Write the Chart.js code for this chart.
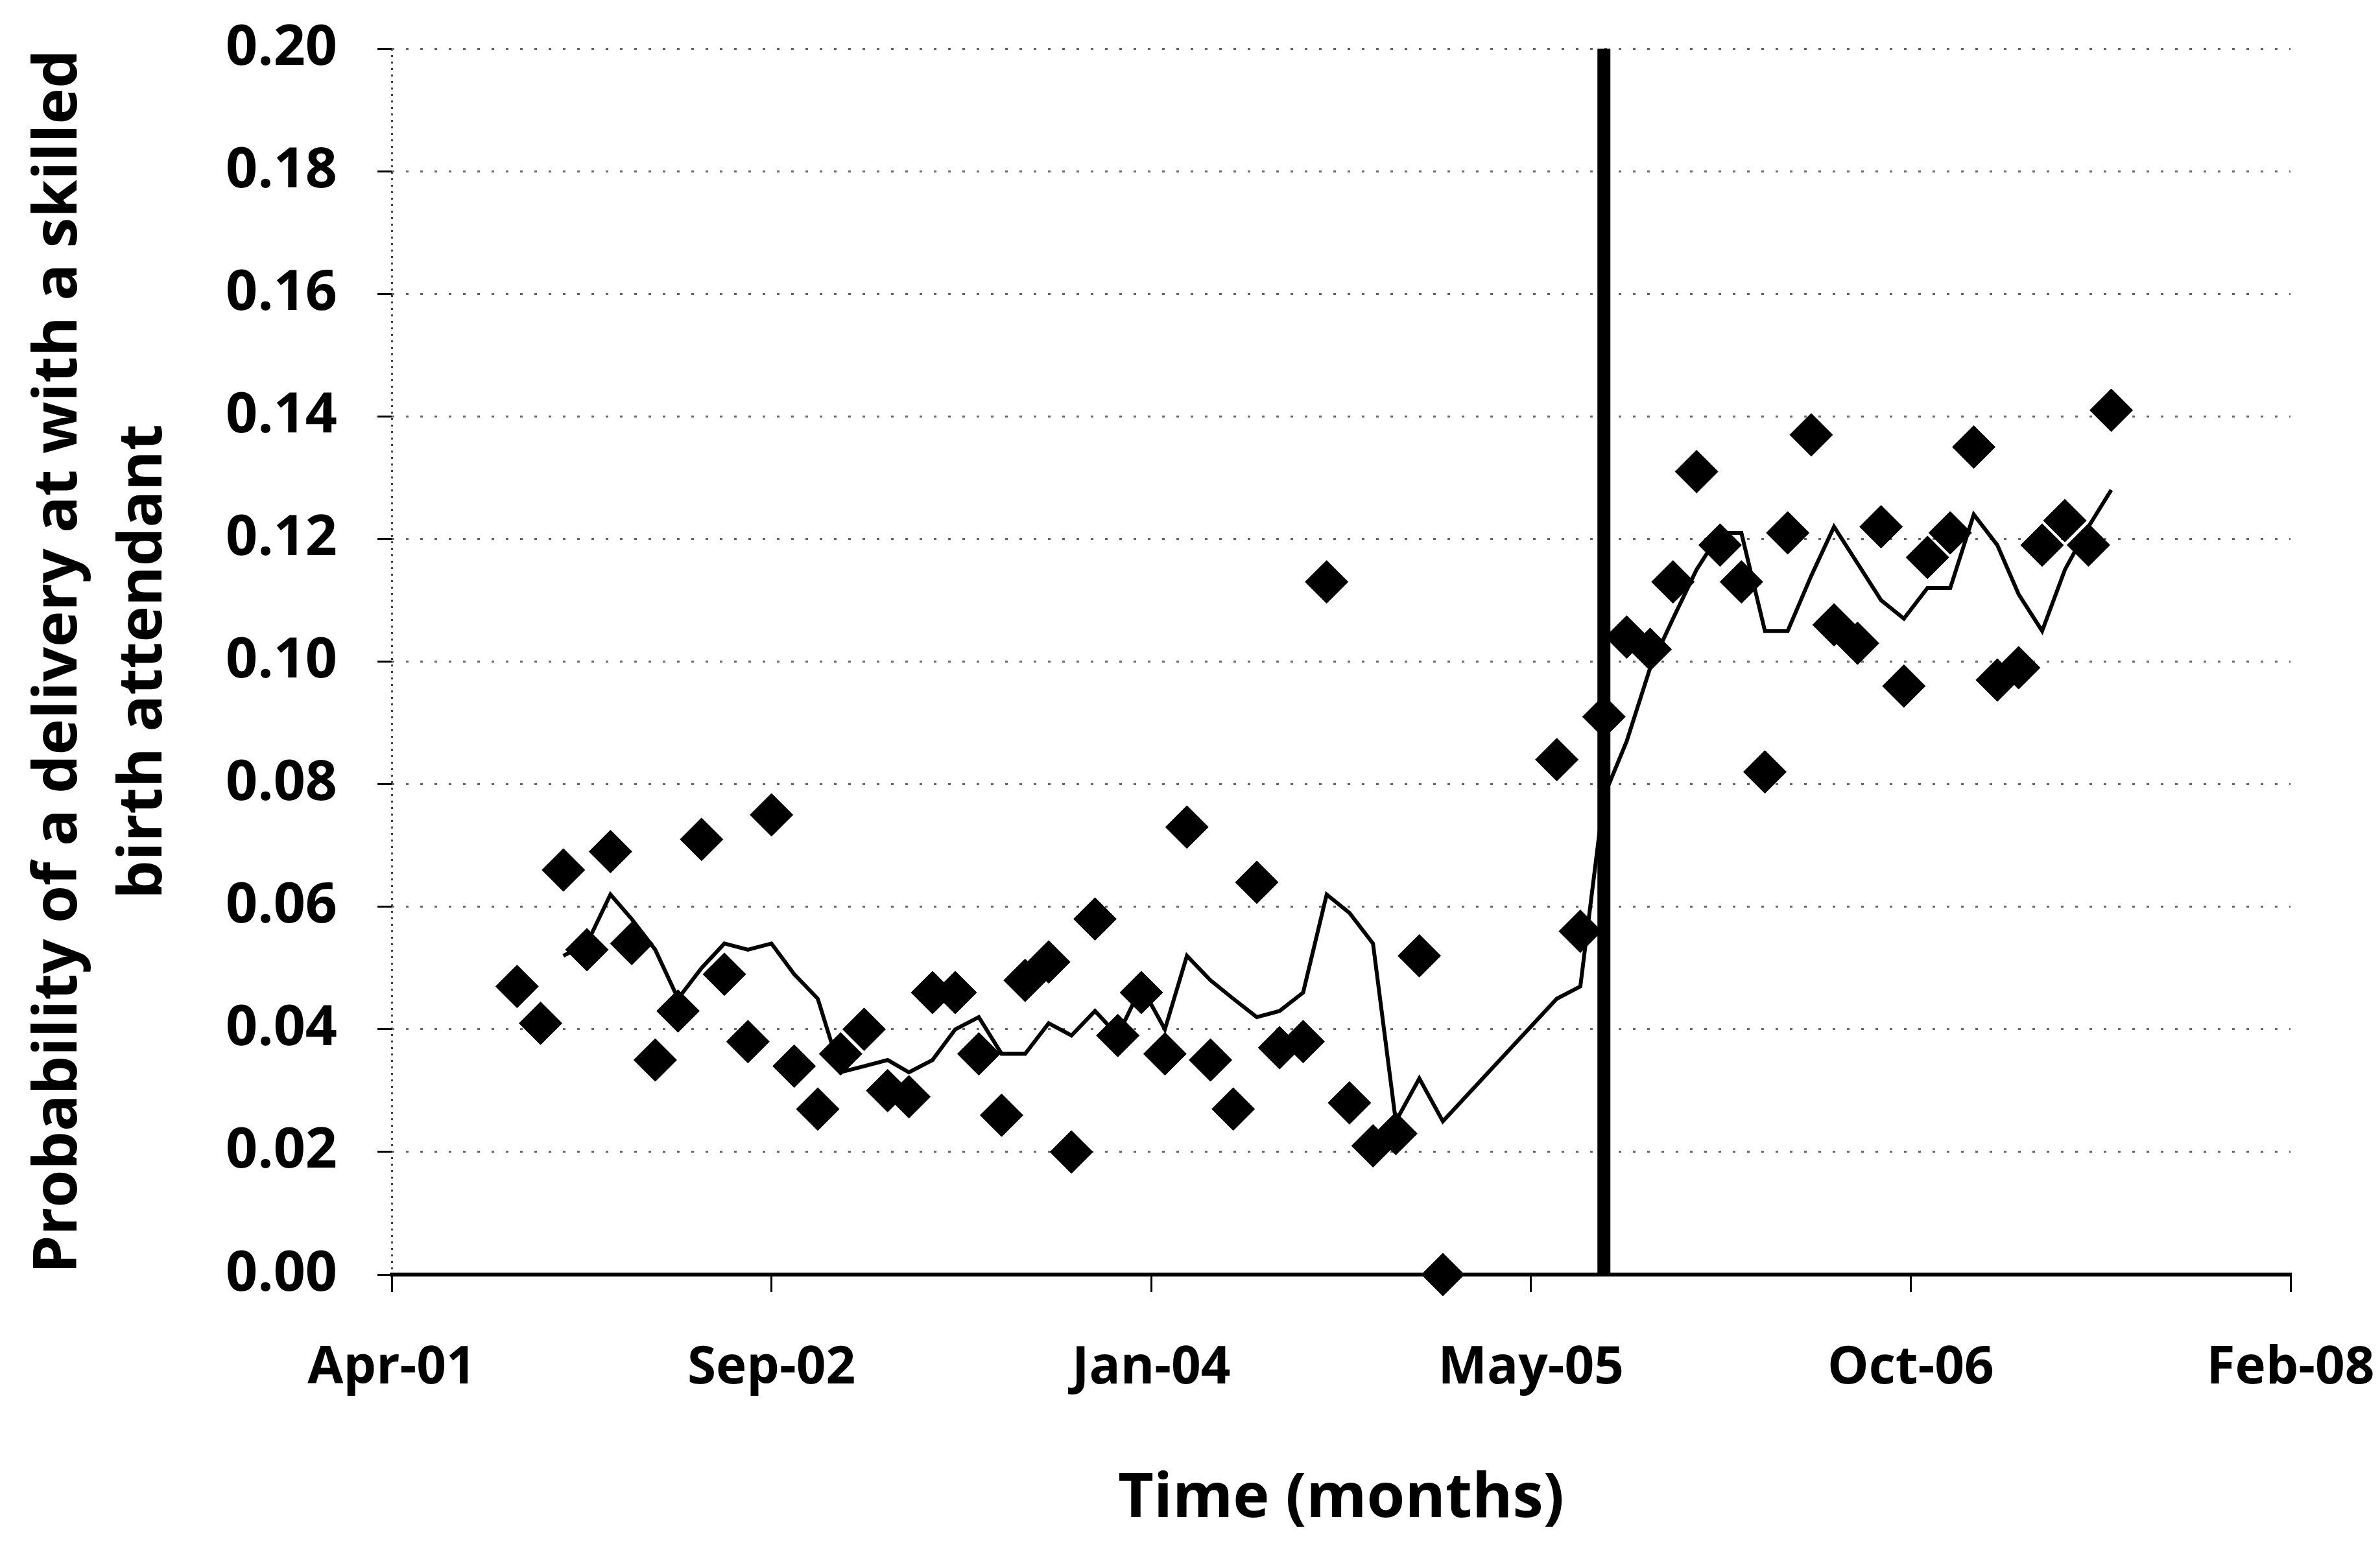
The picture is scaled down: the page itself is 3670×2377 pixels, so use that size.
<!DOCTYPE html>
<html>
<head>
<meta charset="utf-8">
<script src="https://cdn.jsdelivr.net/npm/chart.js@4.4.1/dist/chart.umd.min.js"></script>
<style>
  html, body { margin: 0; padding: 0; background: #fff; }
  #chart_wrapper { width: 3670px; height: 2377px; }
</style>
</head>
<body>
<div id="chart_wrapper"><canvas id="chart" width="3670" height="2377"></canvas></div>
<script>
/*global Chart*/

// monthly observations, Oct 2001 - Jul 2007 (Mar-Jun 2005 not recorded)
var months = [
    "2001-10", "2001-11", "2001-12",
    "2002-01", "2002-02", "2002-03", "2002-04", "2002-05", "2002-06",
    "2002-07", "2002-08", "2002-09", "2002-10", "2002-11", "2002-12",
    "2003-01", "2003-02", "2003-03", "2003-04", "2003-05", "2003-06",
    "2003-07", "2003-08", "2003-09", "2003-10", "2003-11", "2003-12",
    "2004-01", "2004-02", "2004-03", "2004-04", "2004-05", "2004-06",
    "2004-07", "2004-08", "2004-09", "2004-10", "2004-11", "2004-12",
    "2005-01", "2005-02", "2005-03", "2005-04", "2005-05", "2005-06",
    "2005-07", "2005-08", "2005-09", "2005-10", "2005-11", "2005-12",
    "2006-01", "2006-02", "2006-03", "2006-04", "2006-05", "2006-06",
    "2006-07", "2006-08", "2006-09", "2006-10", "2006-11", "2006-12",
    "2007-01", "2007-02", "2007-03", "2007-04", "2007-05", "2007-06",
    "2007-07"
];

var deliveryRate = [
    0.047, 0.041, 0.066,
    0.053, 0.069, 0.054, 0.035, 0.043, 0.071,
    0.049, 0.038, 0.075, 0.034, 0.027, 0.036,
    0.040, 0.030, 0.029, 0.046, 0.046, 0.036,
    0.026, 0.048, 0.051, 0.020, 0.058, 0.039,
    0.046, 0.036, 0.073, 0.035, 0.027, 0.064,
    0.037, 0.038, 0.113, 0.028, 0.021, 0.023,
    0.052, 0.000, null, null, null, null,
    0.084, 0.056, 0.091, 0.104, 0.102, 0.113,
    0.131, 0.119, 0.113, 0.082, 0.121, 0.137,
    0.106, 0.103, 0.122, 0.096, 0.117, 0.121,
    0.135, 0.097, 0.099, 0.119, 0.123, 0.119,
    0.141
];

// 3-month moving average line
var movingAverage = [
    null, null, 0.052,
    0.054, 0.062, 0.058, 0.053, 0.045, 0.050,
    0.054, 0.053, 0.054, 0.049, 0.045, 0.033,
    0.034, 0.035, 0.033, 0.035, 0.040, 0.042,
    0.036, 0.036, 0.041, 0.039, 0.043, 0.039,
    0.047, 0.040, 0.052, 0.048, 0.045, 0.042,
    0.043, 0.046, 0.062, 0.059, 0.054, 0.025,
    0.032, 0.025, null, null, null, null,
    0.045, 0.047, 0.078, 0.087, 0.099, 0.107,
    0.115, 0.121, 0.121, 0.105, 0.105, 0.114,
    0.122, 0.116, 0.110, 0.107, 0.112, 0.112,
    0.124, 0.119, 0.111, 0.105, 0.115, 0.122,
    0.128
];

var interventionMonth = "2005-09";

var xTickLabels = ["Apr-01", "Sep-02", "Jan-04", "May-05", "Oct-06", "Feb-08"];
var yTickLabels = ["0.00", "0.02", "0.04", "0.06", "0.08", "0.10",
                   "0.12", "0.14", "0.16", "0.18", "0.20"];

// spreadsheet-style day number, so the axis runs 37000..39500 in 500-day steps
function dayNumber(month) {
    "use strict";
    var parts = month.split("-");
    return Date.UTC(+parts[0], +parts[1] - 1, 1) / 86400000 + 25569;
}

function toPoints(values) {
    "use strict";
    var pts = [];
    months.forEach(function (m, i) {
        if (values[i] !== null) {
            pts.push({x: dayNumber(m), y: values[i]});
        }
    });
    return pts;
}

Chart.defaults.font.family = "'Open Sans', sans-serif";
Chart.defaults.font.weight = "bold";
Chart.defaults.color = "#000";

var chartData = {
    datasets: [
        {
            type: "line",
            label: "Intervention",
            data: [
                {x: dayNumber(interventionMonth), y: 0},
                {x: dayNumber(interventionMonth), y: 0.2}
            ],
            borderColor: "#000",
            borderWidth: 20,
            borderCapStyle: "butt",
            pointRadius: 0,
            order: 3
        }, {
            type: "scatter",
            label: "Monthly probability",
            data: toPoints(deliveryRate),
            pointStyle: "rectRot",
            pointRadius: 33,
            backgroundColor: "#000",
            borderColor: "#000",
            borderWidth: 1,
            clip: false,
            order: 2
        }, {
            type: "line",
            label: "3 per. Mov. Avg.",
            data: toPoints(movingAverage),
            borderColor: "#000",
            borderWidth: 6,
            pointRadius: 0,
            tension: 0,
            fill: false,
            order: 1
        }
    ]
};

var options = {
    responsive: false,
    animation: false,
    devicePixelRatio: 1,
    layout: {padding: {top: 75, right: 138, bottom: 0, left: 0}},
    plugins: {legend: {display: false}, tooltip: {enabled: false}},
    scales: {
        x: {
            type: "linear",
            min: 37000,
            max: 39500,
            afterFit: function (scale) {
                scale.height = 411;
                scale.paddingLeft = 0;
                scale.paddingRight = 0;
            },
            ticks: {
                stepSize: 500,
                autoSkip: false,
                maxRotation: 0,
                padding: 70,
                font: {size: 80, weight: "bold"},
                callback: function (v, i) { return xTickLabels[i]; }
            },
            grid: {
                color: function (ctx) { return ctx.index === 0 ? "#444" : "rgba(0,0,0,0)"; },
                lineWidth: 3,
                tickColor: "#000",
                tickWidth: 3,
                tickLength: 27,
                tickBorderDash: []
            },
            border: {display: true, color: "#000", width: 6, dash: [3, 7]},
            title: {
                display: true,
                text: "Time (months)",
                font: {size: 95, weight: "bold", lineHeight: 1.2},
                padding: {top: 0, bottom: 7}
            }
        },
        y: {
            min: 0,
            max: 0.2,
            afterFit: function (scale) {
                scale.width = 604;
                scale.paddingTop = 0;
                scale.paddingBottom = 0;
            },
            ticks: {
                stepSize: 0.02,
                padding: 62,
                font: {size: 86, weight: "bold"},
                callback: function (v, i) { return yTickLabels[i]; }
            },
            grid: {
                color: "#666",
                lineWidth: 3,
                tickColor: "#000",
                tickWidth: 3,
                tickLength: 22,
                tickBorderDash: []
            },
            border: {display: false, dash: [4, 18]},
            title: {
                display: true,
                text: ["Probability of a delivery at with a skilled", "birth attendant"],
                font: {size: 94, weight: "bold", lineHeight: 1.4},
                padding: {top: 25, bottom: 0}
            }
        }
    }
};

var chart = new Chart(document.getElementById("chart").getContext("2d"), {
    type: "scatter",
    data: chartData,
    options: options
});
</script>
</body>
</html>
